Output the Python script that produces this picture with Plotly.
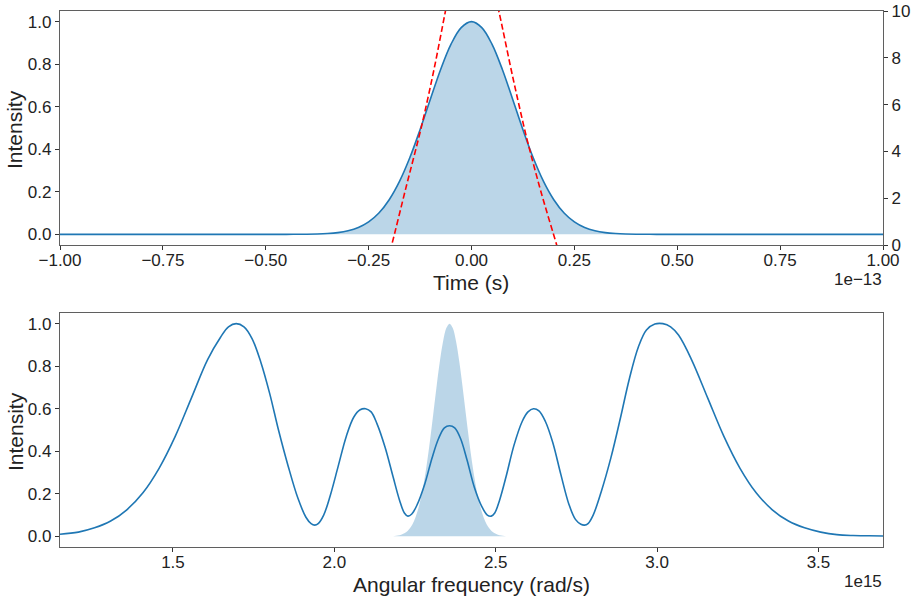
import plotly.graph_objects as go

# ---------------- data ----------------
# Top panel: time axis in units of 1e-13 s
time_t = [-1.0, -0.5, -0.45, -0.425, -0.4, -0.375, -0.35, -0.325, -0.3, -0.275, -0.25,
          -0.225, -0.2, -0.175, -0.15, -0.125, -0.1, -0.075, -0.05, -0.025, 0.0,
          0.025, 0.05, 0.075, 0.1, 0.125, 0.15, 0.175, 0.2, 0.225, 0.25,
          0.275, 0.3, 0.325, 0.35, 0.375, 0.4, 0.425, 0.45, 0.5, 1.0]
time_intensity = [0.0, 0.0, 0.0001, 0.0003, 0.0007, 0.0017, 0.0039, 0.0083, 0.0169, 0.0324, 0.0588,
                  0.1007, 0.163, 0.249, 0.360, 0.492, 0.635, 0.775, 0.893, 0.972, 1.0,
                  0.972, 0.893, 0.775, 0.635, 0.492, 0.360, 0.249, 0.163, 0.1007, 0.0588,
                  0.0324, 0.0169, 0.0083, 0.0039, 0.0017, 0.0007, 0.0003, 0.0001, 0.0, 0.0]

# Red dashed curve (right axis 0..10)
phase_t = [-0.21, -0.194, -0.16, -0.121, -0.09, -0.0644, -0.05, -0.03, 0.0,
           0.03, 0.05, 0.0676, 0.10, 0.134, 0.17, 0.207, 0.222]
phase_val = [-1.0, 0.0, 2.4, 5.1, 7.6, 9.9, 11.2, 12.6, 13.2,
             12.6, 11.2, 9.9, 7.2, 4.58, 2.2, 0.0, -0.9]

# Bottom panel: angular frequency in units of 1e15 rad/s
freq_w = [1.150, 1.207, 1.257, 1.307, 1.357, 1.407, 1.457, 1.507, 1.557, 1.607, 1.647,
          1.672, 1.696, 1.720, 1.745, 1.772, 1.800, 1.827, 1.857, 1.887, 1.912, 1.928, 1.939, 1.950,
          1.967, 1.987, 2.012, 2.037, 2.060, 2.080, 2.097, 2.114, 2.132, 2.157, 2.182,
          2.202, 2.217, 2.228, 2.240, 2.257, 2.280, 2.303, 2.323, 2.341, 2.357,
          2.373, 2.391, 2.411, 2.434, 2.457, 2.474, 2.486, 2.497, 2.512, 2.532, 2.557, 2.582,
          2.600, 2.617, 2.634, 2.654, 2.677, 2.702, 2.727, 2.747, 2.764, 2.775, 2.786, 2.802,
          2.827, 2.857, 2.887, 2.914, 2.942, 2.967, 2.993, 3.018, 3.042, 3.067, 3.107, 3.157,
          3.207, 3.257, 3.307, 3.357, 3.407, 3.457, 3.507, 3.557, 3.607, 3.657, 3.700]
spectrum = [0.010, 0.020, 0.040, 0.072, 0.125, 0.205, 0.32, 0.47, 0.65, 0.83, 0.935,
            0.985, 1.0, 0.985, 0.93, 0.82, 0.67, 0.50, 0.33, 0.18, 0.09, 0.06, 0.053, 0.06,
            0.10, 0.19, 0.33, 0.47, 0.56, 0.595, 0.60, 0.585, 0.53, 0.42, 0.28,
            0.17, 0.11, 0.095, 0.105, 0.15, 0.245, 0.37, 0.46, 0.51, 0.52,
            0.51, 0.46, 0.36, 0.23, 0.14, 0.10, 0.095, 0.11, 0.17, 0.28, 0.43, 0.54,
            0.585, 0.60, 0.59, 0.54, 0.44, 0.29, 0.15, 0.08, 0.057, 0.053, 0.06, 0.10,
            0.21, 0.37, 0.56, 0.74, 0.89, 0.97, 0.998, 1.0, 0.985, 0.945, 0.83, 0.65,
            0.47, 0.32, 0.205, 0.125, 0.072, 0.040, 0.020, 0.008, 0.004, 0.003, 0.002]

# Narrow filled input spectrum
input_w = [2.167, 2.177, 2.187, 2.197, 2.207, 2.217, 2.227, 2.237, 2.247, 2.257,
           2.267, 2.277, 2.287, 2.297, 2.307, 2.317, 2.327, 2.337, 2.347, 2.357,
           2.367, 2.377, 2.387, 2.397, 2.407, 2.417, 2.427, 2.437, 2.447, 2.457,
           2.467, 2.477, 2.487, 2.497, 2.507, 2.517, 2.527, 2.537, 2.547]
input_spectrum = [0.0004, 0.0009, 0.0019, 0.0039, 0.0076, 0.0142, 0.0255, 0.0439, 0.0724, 0.114,
                  0.172, 0.249, 0.345, 0.458, 0.581, 0.707, 0.823, 0.917, 0.979, 1.0,
                  0.979, 0.917, 0.823, 0.707, 0.581, 0.458, 0.345, 0.249, 0.172, 0.114,
                  0.0724, 0.0439, 0.0255, 0.0142, 0.0076, 0.0039, 0.0019, 0.0009, 0.0004]

time_ticks = [-1.0, -0.75, -0.5, -0.25, 0.0, 0.25, 0.5, 0.75, 1.0]
time_ticktext = ["\u22121.00", "\u22120.75", "\u22120.50", "\u22120.25", "0.00", "0.25", "0.50", "0.75", "1.00"]
int_ticks = [0.0, 0.2, 0.4, 0.6, 0.8, 1.0]
int_ticktext = ["0.0", "0.2", "0.4", "0.6", "0.8", "1.0"]
right_ticks = [0, 2, 4, 6, 8, 10]
freq_ticks = [1.5, 2.0, 2.5, 3.0, 3.5]
freq_ticktext = ["1.5", "2.0", "2.5", "3.0", "3.5"]

# ---------------- figure ----------------
BLUE = "#1f77b4"
FILL = "rgba(31,119,180,0.3)"
SPINE = "#5f5f5f"
TXT = "#222222"
FONT = "Liberation Sans, Arial, sans-serif"

fig = go.Figure()
fig.add_trace(go.Scatter(x=time_t, y=time_intensity, mode="lines",
                         line=dict(color=BLUE, width=1.6, shape="spline", smoothing=1.0),
                         fill="tozeroy", fillcolor=FILL, xaxis="x", yaxis="y",
                         showlegend=False, hoverinfo="skip"))
fig.add_trace(go.Scatter(x=phase_t, y=phase_val, mode="lines",
                         line=dict(color="#ff0000", width=1.6, dash="6px,3px", shape="spline", smoothing=0.8),
                         xaxis="x", yaxis="y2", showlegend=False, hoverinfo="skip"))
fig.add_trace(go.Scatter(x=input_w, y=input_spectrum, mode="lines",
                         line=dict(width=0, color=FILL, shape="spline", smoothing=1.0),
                         fill="tozeroy", fillcolor=FILL, xaxis="x2", yaxis="y3",
                         showlegend=False, hoverinfo="skip"))
fig.add_trace(go.Scatter(x=freq_w, y=spectrum, mode="lines",
                         line=dict(color=BLUE, width=1.6, shape="spline", smoothing=1.0),
                         xaxis="x2", yaxis="y3", showlegend=False, hoverinfo="skip"))

W, H = 916, 597
ML, MR, MT, MB = 60, 33, 11, 50
PW, PH = W - ML - MR, H - MT - MB

def px(xp):
    return (xp - ML) / PW

def py(yp):
    return (H - MB - yp) / PH

axis_common = dict(showgrid=False, zeroline=False, showline=True, linecolor=SPINE, linewidth=1.3,
                   ticks="outside", ticklen=4, tickwidth=1, tickcolor="#333333",
                   tickfont=dict(family=FONT, size=17, color=TXT), automargin=False)

fig.update_layout(
    width=W, height=H,
    margin=dict(l=ML, r=MR, t=MT, b=MB),
    paper_bgcolor="white", plot_bgcolor="white",
    font=dict(family=FONT, color=TXT),
    showlegend=False,
    xaxis=dict(domain=[0, 1], anchor="y", range=[-1, 1], tickvals=time_ticks, ticktext=time_ticktext,
               mirror=True, ticklabelstandoff=-5, **axis_common),
    yaxis=dict(domain=[py(245), 1], anchor="x", range=[-0.05, 1.05], tickvals=int_ticks,
               ticktext=int_ticktext, **axis_common),
    yaxis2=dict(overlaying="y", anchor="x", side="right", range=[0, 10], tickvals=right_ticks,
                **axis_common),
    xaxis2=dict(domain=[0, 1], anchor="y3", range=[1.15, 3.70], tickvals=freq_ticks,
                ticktext=freq_ticktext, mirror=True, ticklabelstandoff=-5, **axis_common),
    yaxis3=dict(domain=[0, py(313)], anchor="x2", range=[-0.05, 1.05], tickvals=int_ticks,
                ticktext=int_ticktext, mirror=True, **axis_common),
)

ann = []
ann.append(dict(text="Time (s)", x=px(471), y=py(282), xref="paper", yref="paper",
                xanchor="center", yanchor="middle", showarrow=False,
                font=dict(family=FONT, size=21, color=TXT)))
ann.append(dict(text="Angular frequency (rad/s)", x=px(471), y=py(584), xref="paper", yref="paper",
                xanchor="center", yanchor="middle", showarrow=False,
                font=dict(family=FONT, size=21, color=TXT)))
ann.append(dict(text="Intensity", x=px(15), y=py(130), xref="paper", yref="paper",
                xanchor="center", yanchor="middle", showarrow=False, textangle=-90,
                font=dict(family=FONT, size=21, color=TXT)))
ann.append(dict(text="Intensity", x=px(15), y=py(432), xref="paper", yref="paper",
                xanchor="center", yanchor="middle", showarrow=False, textangle=-90,
                font=dict(family=FONT, size=21, color=TXT)))
ann.append(dict(text="1e\u221213", x=px(884), y=py(279), xref="paper", yref="paper",
                xanchor="right", yanchor="middle", showarrow=False,
                font=dict(family=FONT, size=17, color=TXT)))
ann.append(dict(text="1e15", x=px(884), y=py(581), xref="paper", yref="paper",
                xanchor="right", yanchor="middle", showarrow=False,
                font=dict(family=FONT, size=17, color=TXT)))
fig.update_layout(annotations=ann)

fig.write_html("out.html", config={"displayModeBar": False},
               post_script="document.body.style.margin='0';document.body.style.overflow='hidden';")
